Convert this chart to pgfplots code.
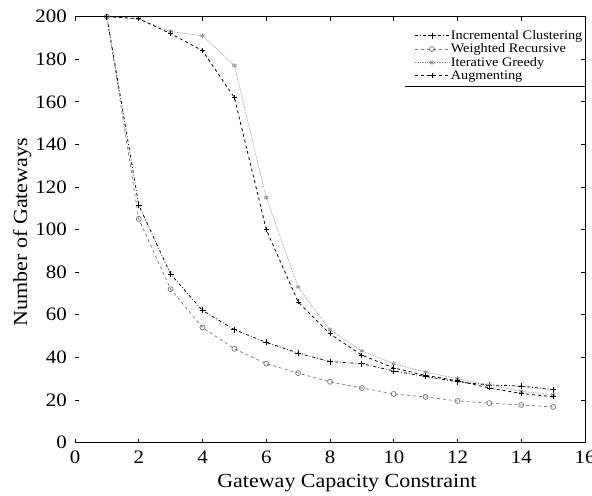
\documentclass[border=0pt]{standalone}
\usepackage{fontspec}
\setmainfont{Liberation Serif}[FakeStretch=1.1]
\usepackage{pgfplots}
\pgfplotsset{compat=1.18}

\begin{document}
\begin{tikzpicture}
\begin{axis}[
    scale only axis, width=510bp, height=425.9bp,
    xmin=0, xmax=16, ymin=0, ymax=200,
    xtick={0,2,...,16}, ytick={0,20,...,200},
    tick align=inside, major tick length=4bp,
    axis line style={draw=none},
    tick style={black, line width=0.6bp},
    clip=false,
    /pgf/number format/assume math mode=true,
    ticklabel style={font=\fontsize{19bp}{21bp}\selectfont},
    xticklabel style={anchor=base, yshift=-20.5bp, inner sep=0pt},
    yticklabel style={anchor=east, xshift=-8bp, inner sep=0pt},
    xlabel={Gateway Capacity Constraint},
    ylabel={Number of Gateways},
    label style={font=\fontsize{20bp}{22bp}\selectfont},
    xlabel style={at={(axis description cs:0.533,-0.1045)}, anchor=base, inner sep=0pt},
    ylabel style={at={(axis description cs:-0.094,0.494)}, anchor=base, inner sep=0pt},
    legend style={at={(rel axis cs:1,1)}, anchor=north east, yshift=-9bp, draw=none, fill=none,
        font=\fontsize{13bp}{14bp}\selectfont, inner xsep=1bp, inner ysep=3bp,
        row sep=0pt, nodes={inner sep=1.5bp}},
    legend cell align=left,
    legend image code/.code={\draw[mark repeat=2, mark phase=2, #1]
        plot coordinates {(0bp,0bp) (17bp,0bp) (34bp,0bp)};},
]
\addplot[black, line width=0.8bp, dash dot, mark=+, mark size=3bp, mark options={solid}] coordinates {
    (1,200) (2,111.5) (3,79) (4,62) (5,53) (6,47) (7,42) (8,38)
    (9,37) (10,33.6) (11,31) (12,28.5) (13,27) (14,26.5) (15,24.8)
};
\addlegendentry{Incremental Clustering}
\addplot[black!55, line width=0.7bp, dashed, mark=o, mark size=2.5bp, mark options={solid}] coordinates {
    (1,200) (2,105) (3,72) (4,54) (5,44) (6,37) (7,32.6) (8,28.5)
    (9,25.6) (10,22.8) (11,21.4) (12,19.5) (13,18.5) (14,17.6) (15,16.7)
};
\addlegendentry{Weighted Recursive}
\addplot[black!45, line width=0.7bp, densely dotted, mark=asterisk, mark size=2.5bp, mark options={solid}] coordinates {
    (1,200) (2,199) (3,193) (4,191) (5,177) (6,115) (7,73) (8,53)
    (9,43) (10,37) (11,33) (12,30) (13,27) (14,24) (15,22.5)
};
\addlegendentry{Iterative Greedy}
\addplot[black, line width=0.8bp, dashed, mark=+, mark size=2.5bp, mark options={solid}] coordinates {
    (1,200) (2,199) (3,192) (4,184) (5,162) (6,100) (7,66) (8,51)
    (9,41) (10,35) (11,31.5) (12,29) (13,25.6) (14,23) (15,21.5)
};
\addlegendentry{Augmenting}
% frame without the left spine, and the rule under the legend
\draw[line width=0.9bp] (rel axis cs:0,0) -- (rel axis cs:1,0) -- (rel axis cs:1,1) -- (rel axis cs:0,1);
\draw[line width=0.8bp] (rel axis cs:0.647,0.835) -- (rel axis cs:1,0.835);
\end{axis}
\pgfresetboundingbox
\path[use as bounding box] (-75bp,-53.5bp) rectangle (517bp,442.5bp);
\end{tikzpicture}
\end{document}
